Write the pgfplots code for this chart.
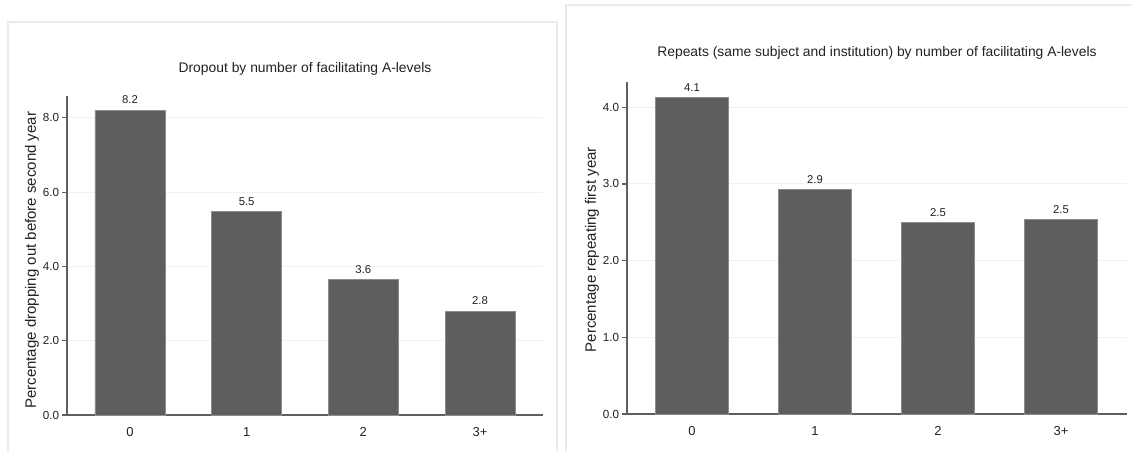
\documentclass[border=0pt]{standalone}
\usepackage{pgfplots}
\pgfplotsset{compat=1.18}
\usepackage{fontspec}
\setmainfont{Liberation Sans}
\definecolor{barfill}{HTML}{5E5E5E}
\definecolor{baredge}{HTML}{8C8C8C}
\definecolor{axcol}{HTML}{5F5F5F}
\definecolor{gridcol}{HTML}{F1F1F1}
\definecolor{framecol}{HTML}{EBEBEB}
\definecolor{txt}{HTML}{222222}
\pgfplotsset{
  panel/.style={
    scale only axis,
    clip=false,
    anchor=south west,
    axis x line*=bottom,
    axis y line*=left,
    x axis line style={-, color=axcol, line width=1.1pt},
    y axis line style={-, color=axcol, line width=1.1pt},
    ymin=0,
    xtick=data,
    xticklabels={0,1,2,3+},
    x tick style={draw=none},
    xtick align=outside,
    ytick align=outside,
    y tick style={color=axcol, line width=0.8pt},
    major tick length=3.75pt,
    ymajorgrids,
    major grid style={color=gridcol, line width=0.75pt},
    /pgf/number format/assume math mode=true,
    yticklabel style={font=\fontsize{8.75}{10}\selectfont, color=txt,
      /pgf/number format/fixed, /pgf/number format/fixed zerofill,
      /pgf/number format/precision=1, inner sep=2pt},
    xticklabel style={font=\fontsize{9.75}{11}\selectfont, color=txt, yshift=-2pt},
    title style={font=\fontsize{10.4}{12}\selectfont, color=txt, anchor=center},
    ylabel style={font=\fontsize{11.25}{13}\selectfont, color=txt, rotate=0, anchor=center},
    ybar, bar width=0.6, bar shift=0pt,
    nodes near coords={\pgfmathprintnumber[fixed,fixed zerofill,precision=1]{\pgfplotspointmeta}},
    every node near coord/.append style={font=\fontsize{8.5}{10}\selectfont, color=txt, yshift=1pt},
  }
}
\begin{document}
\begin{tikzpicture}
\useasboundingbox (0,0) rectangle (849pt,337.5pt);
\fill[white] (0,0) rectangle (849pt,337.5pt);
\clip (0,0) rectangle (849pt,337.5pt);
\draw[framecol, line width=1.5pt] (6pt,-10pt) rectangle (417.75pt,321pt);
\draw[framecol, line width=1.5pt] (424.5pt,-10pt) rectangle (870pt,333.75pt);
\begin{axis}[panel,
  at={(50.25pt,26.25pt)},
  width=357pt, height=239.25pt,
  xmin=-0.54, xmax=3.54,
  ymax=8.59,
  ytick={0,2,4,6,8},
  title={Dropout by number of facilitating A-levels},
  title style={at={(axis description cs:0.5,1)}, yshift=14.25pt},
  ylabel={Percentage dropping out before second year},
  ylabel style={at={(axis description cs:-0.0735,0.485)}},
]
\addplot[fill=barfill, draw=baredge, line width=0.5pt] coordinates {(0,8.21) (1,5.48) (2,3.64) (3,2.80)};
\end{axis}
\begin{axis}[panel,
  at={(470.25pt,27pt)},
  width=375pt, height=249pt,
  xmin=-0.528, xmax=3.537,
  bar width=0.59,
  ymax=4.33,
  ytick={0,1,2,3,4},
  title={Repeats (same subject and institution) by number of facilitating A-levels},
  title style={at={(axis description cs:0.5,1)}, yshift=15.75pt},
  ylabel={Percentage repeating first year},
  ylabel style={at={(axis description cs:-0.07,0.495)}},
]
\addplot[fill=barfill, draw=baredge, line width=0.5pt] coordinates {(0,4.13) (1,2.93) (2,2.50) (3,2.54)};
\end{axis}
\end{tikzpicture}
\end{document}
